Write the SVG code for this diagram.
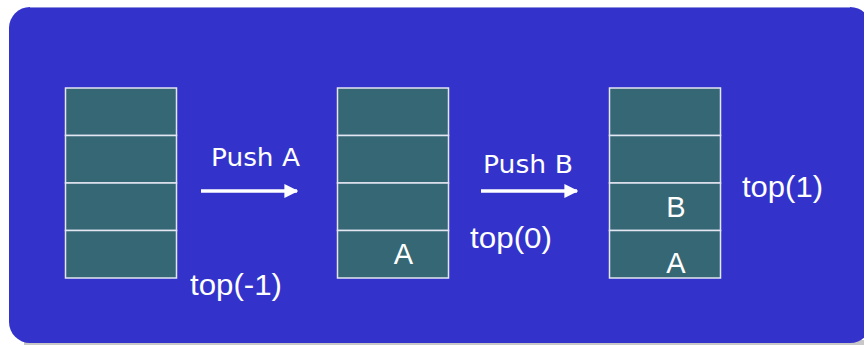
<svg xmlns="http://www.w3.org/2000/svg" width="864" height="345" viewBox="0 0 864 345">
  <defs>
    <style>
      .cell { fill: #366775; stroke: #e4e6f2; stroke-width: 1.5; }
      .lbl { fill: #ffffff; font-family: "Liberation Sans", Arial, sans-serif; }
      .op { fill: #ffffff; font-family: "DejaVu Sans", Verdana, sans-serif; font-size: 25px; }
      .arrow { stroke: #ffffff; stroke-width: 3.5; fill: none; }
    </style>
    <marker id="head" viewBox="0 0 10 10" refX="9" refY="5" markerWidth="4" markerHeight="4" markerUnits="strokeWidth" orient="auto">
      <path d="M0,0 L10,5 L0,10 Z" fill="#ffffff"/>
    </marker>
  </defs>

  <!-- page backdrop -->
  <rect x="0" y="0" width="864" height="345" fill="#ffffff"/>
  <rect x="24" y="340" width="840" height="5" fill="#c8c8c8"/>
  <rect x="9" y="7" width="862" height="336" rx="21" fill="#3333cc"/>
  <line x1="30" y1="7.5" x2="850" y2="7.5" stroke="#8f8fe0" stroke-width="1"/>

  <!-- empty stack -->
  <g id="stack-empty">
    <rect class="cell" x="65.5" y="88" width="111" height="47.5"/>
    <rect class="cell" x="65.5" y="135.5" width="111" height="47.5"/>
    <rect class="cell" x="65.5" y="183" width="111" height="47.5"/>
    <rect class="cell" x="65.5" y="230.5" width="111" height="47.5"/>
    <text class="lbl" x="190" y="295" font-size="29" textLength="92" lengthAdjust="spacingAndGlyphs">top(-1)</text>
  </g>

  <!-- stack after Push A -->
  <g id="stack-a">
    <rect class="cell" x="337.5" y="88" width="111" height="47.5"/>
    <rect class="cell" x="337.5" y="135.5" width="111" height="47.5"/>
    <rect class="cell" x="337.5" y="183" width="111" height="47.5"/>
    <rect class="cell" x="337.5" y="230.5" width="111" height="47.5"/>
    <text class="lbl" x="403.5" y="264" font-size="29" text-anchor="middle">A</text>
    <text class="lbl" x="470" y="248" font-size="29" textLength="82" lengthAdjust="spacingAndGlyphs">top(0)</text>
  </g>

  <!-- stack after Push B -->
  <g id="stack-ab">
    <rect class="cell" x="609.5" y="88" width="111" height="47.5"/>
    <rect class="cell" x="609.5" y="135.5" width="111" height="47.5"/>
    <rect class="cell" x="609.5" y="183" width="111" height="47.5"/>
    <rect class="cell" x="609.5" y="230.5" width="111" height="47.5"/>
    <text class="lbl" x="676" y="217" font-size="29" text-anchor="middle">B</text>
    <text class="lbl" x="676" y="273" font-size="29" text-anchor="middle">A</text>
    <text class="lbl" x="742" y="197" font-size="29" textLength="81" lengthAdjust="spacingAndGlyphs">top(1)</text>
  </g>

  <!-- push operations -->
  <g id="connectors">
    <g id="push-a">
      <line class="arrow" x1="201" y1="191" x2="297" y2="191" marker-end="url(#head)"/>
      <text class="op" x="211" y="166" textLength="89" lengthAdjust="spacingAndGlyphs">Push A</text>
    </g>
    <g id="push-b">
      <line class="arrow" x1="481" y1="191" x2="577" y2="191" marker-end="url(#head)"/>
      <text class="op" x="483" y="173" textLength="90" lengthAdjust="spacingAndGlyphs">Push B</text>
    </g>
  </g>
</svg>
